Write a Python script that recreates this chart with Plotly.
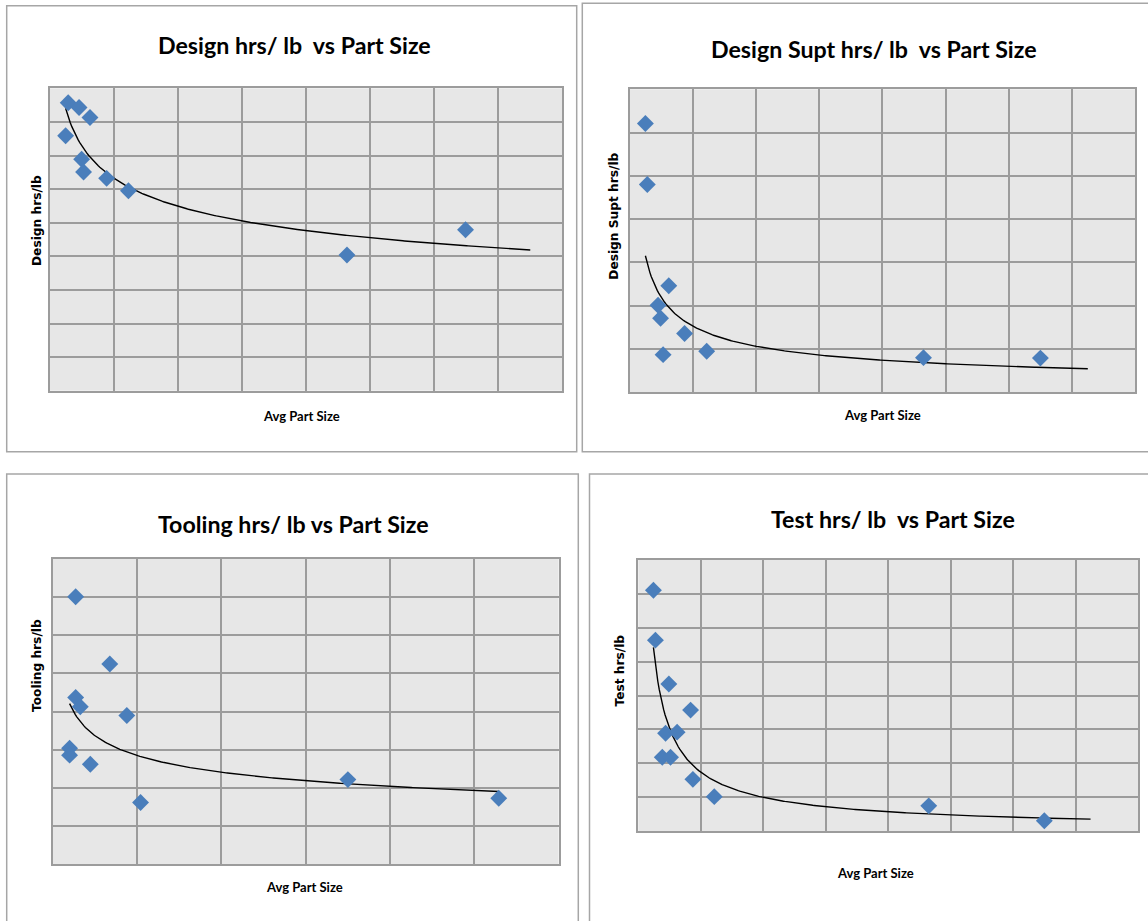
import numpy as np
import plotly.graph_objects as go

W, H = 1148, 921

# ---------------- data (unitless grid scale) ----------------
titles = ["Design hrs/ lb  vs Part Size", "Design Supt hrs/ lb  vs Part Size",
          "Tooling hrs/ lb vs Part Size", "Test hrs/ lb  vs Part Size"]
y_titles = ["Design hrs/lb", "Design Supt hrs/lb", "Tooling hrs/lb", "Test hrs/lb"]
x_title = "Avg Part Size"

design_x = [0.25, 0.29, 0.46, 0.50, 0.53, 0.63, 0.89, 1.23, 4.64, 6.49]
design_y = [7.59, 8.57, 8.43, 6.89, 6.51, 8.13, 6.32, 5.95, 4.04, 4.79]

supt_x = [0.25, 0.28, 0.45, 0.49, 0.53, 0.62, 0.87, 1.22, 4.65, 6.50]
supt_y = [6.21, 4.80, 2.01, 1.71, 0.87, 2.46, 1.36, 0.95, 0.80, 0.79]

tooling_x = [0.27, 0.675, 0.27, 0.325, 0.877, 0.198, 0.198, 0.444, 1.04, 3.50, 5.29]
tooling_y = [7.01, 5.25, 4.37, 4.13, 3.90, 3.04, 2.86, 2.62, 1.62, 2.22, 1.73]

test_x = [0.242, 0.274, 0.489, 0.837, 0.437, 0.621, 0.384, 0.516, 0.874, 1.216, 4.649, 6.499]
test_y = [7.10, 5.63, 4.34, 3.57, 2.89, 2.92, 2.18, 2.18, 1.53, 1.02, 0.75, 0.31]

# power trendline forward forecast (x units) per panel
trend_forecast = [1.01, 0.75, 0.0, 0.74]
# axis extents (number of grid cells)
x_max = [8, 8, 6, 8]
y_max = [9, 7, 8, 8]

series = [(design_x, design_y), (supt_x, supt_y), (tooling_x, tooling_y), (test_x, test_y)]

# ---------------- layout geometry (pixels) ----------------
plot_boxes = [  # left, right, top, bottom
    (49.6, 562.3, 88.3, 390.7),
    (629.6, 1135.2, 89.3, 392.3),
    (52.9, 558.6, 559.0, 864.3),
    (638.3, 1138.1, 559.7, 831.3),
]
frames = [  # left, right, top, bottom
    (6.7, 576.7, 5.7, 451.7),
    (582.3, 1160, 3.3, 451.7),
    (6.7, 578.3, 474.0, 935),
    (589.5, 1160, 474.0, 935),
]
title_pos = [(294.7, 44.5), (874.3, 48.5), (293.2, 523.5), (893.3, 518.5)]
xlab_pos = [(301.5, 416.0), (882.8, 414.5), (304.7, 886.7), (875.2, 872.7)]
ylab_pos = [(37.0, 221.0), (613.7, 216.0), (37.0, 666.0), (619.8, 670.7)]

def px(x):
    return x / W

def py(y):
    return 1 - y / H

GRID = "#9c9c9c"
BG = "#e7e7e7"
BLUE = "#4a7ebb"
TITLE_FONT = "Lato, Liberation Sans Narrow, Liberation Sans, sans-serif"
YLAB_FONT = "DejaVu Sans, Verdana, sans-serif"

fig = go.Figure()
layout = dict(
    width=W, height=H, margin=dict(l=0, r=0, t=0, b=0),
    paper_bgcolor="white", plot_bgcolor=BG, showlegend=False,
    annotations=[], shapes=[],
)

for i, (xs, ys) in enumerate(series):
    n = i + 1
    xa = "x" if n == 1 else f"x{n}"
    ya = "y" if n == 1 else f"y{n}"
    l, r, t, b = plot_boxes[i]
    axis_common = dict(
        showgrid=True, gridcolor=GRID, gridwidth=1.5, dtick=1, tick0=0,
        showticklabels=False, ticks="", zeroline=False,
        showline=True, mirror=True, linecolor=GRID, linewidth=1.5, fixedrange=True,
    )
    layout["xaxis" if n == 1 else f"xaxis{n}"] = dict(
        domain=[px(l), px(r)], range=[0, x_max[i]], anchor=ya, **axis_common)
    layout["yaxis" if n == 1 else f"yaxis{n}"] = dict(
        domain=[py(b), py(t)], range=[0, y_max[i]], anchor=xa, **axis_common)

    # power trendline fitted on the data (as the spreadsheet does)
    xa_arr = np.array(xs, dtype=float)
    ya_arr = np.array(ys, dtype=float)
    slope, intercept = np.polyfit(np.log(xa_arr), np.log(ya_arr), 1)
    tx = np.linspace(xa_arr.min(), xa_arr.max() + trend_forecast[i], 300)
    ty = np.exp(intercept) * tx ** slope
    fig.add_trace(go.Scatter(x=tx, y=ty, mode="lines", line=dict(color="black", width=1.4),
                             xaxis=xa, yaxis=ya, hoverinfo="skip"))
    fig.add_trace(go.Scatter(x=xs, y=ys, mode="markers", xaxis=xa, yaxis=ya,
                             marker=dict(symbol="diamond", size=13, color=BLUE,
                                         line=dict(width=0))))

    fl, fr, ft, fb = frames[i]
    layout["shapes"].append(dict(type="rect", xref="paper", yref="paper",
                                 x0=px(fl), x1=px(fr), y0=py(fb), y1=py(ft),
                                 line=dict(color="#a6a6a6", width=1.5), layer="below"))

    tx_, ty_ = title_pos[i]
    layout["annotations"].append(dict(
        text=f"<b>{titles[i]}</b>", x=px(tx_), y=py(ty_), xref="paper", yref="paper",
        xanchor="center", yanchor="middle", showarrow=False,
        font=dict(family=TITLE_FONT, size=23.2, color="black")))
    lx, ly = xlab_pos[i]
    layout["annotations"].append(dict(
        text=f"<b>{x_title}</b>", x=px(lx), y=py(ly), xref="paper", yref="paper",
        xanchor="center", yanchor="middle", showarrow=False,
        font=dict(family=TITLE_FONT, size=13, color="black")))
    yx, yy = ylab_pos[i]
    layout["annotations"].append(dict(
        text=f"<b>{y_titles[i]}</b>", x=px(yx), y=py(yy), xref="paper", yref="paper",
        xanchor="center", yanchor="middle", showarrow=False, textangle=-90,
        font=dict(family=YLAB_FONT, size=12.2, color="black")))

fig.update_layout(**layout)
fig.write_html("out.html", config={"displayModeBar": False},
               post_script="document.body.style.margin='0';")
